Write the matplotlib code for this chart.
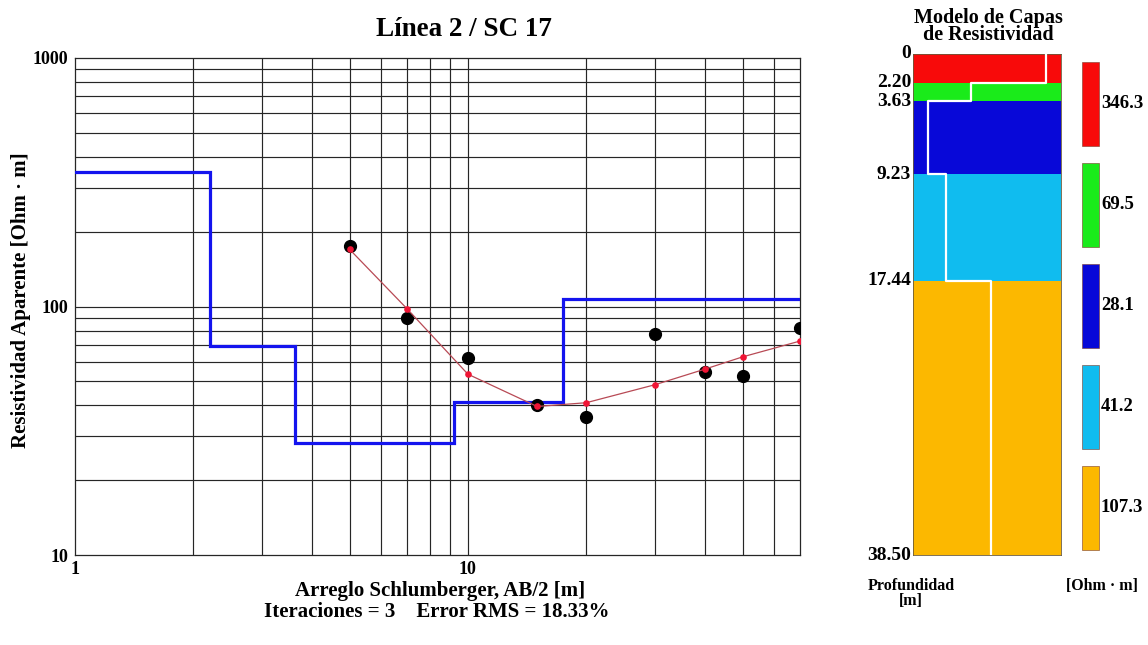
import numpy as np
import matplotlib
matplotlib.use("Agg")
import matplotlib.pyplot as plt
from matplotlib.patches import Rectangle

# Schlumberger sounding SC 17 (line 2)
ab2 = [5, 7, 10, 15, 20, 30, 40, 50, 70]
rho_obs = [175, 90.3, 62.2, 40.1, 35.9, 77.8, 54.6, 52.6, 82.2]
rho_calc = [169.7, 97.9, 53.4, 39.6, 41.0, 48.5, 55.9, 62.7, 72.6]

# Inverted layered model
layer_rho = [346.3, 69.5, 28.1, 41.2, 107.3]
layer_top = [0.0, 2.20, 3.63, 9.23, 17.44]
layer_bottom = [2.20, 3.63, 9.23, 17.44, 38.50]
depth_labels = ["0", "2.20", "3.63", "9.23", "17.44", "38.50"]
layer_colors = ["#f80a0a", "#1aeb1a", "#0808d8", "#10bcef", "#fcb800"]

title = "Línea 2 / SC 17"
xlabel = "Arreglo Schlumberger, AB/2 [m]"
stats = "Iteraciones = 3    Error RMS = 18.33%"
ylabel = "Resistividad Aparente [Ohm · m]"

SERIF = ["Liberation Serif", "DejaVu Serif"]
W, H = 1148, 645
fig = plt.figure(figsize=(W / 100, H / 100), dpi=100)
fig.patch.set_facecolor("white")


def fx(px):
    return px / W


def fy(py):
    return 1 - py / H


# ---------------- apparent resistivity curve ----------------
ax = fig.add_axes([fx(75), fy(555), fx(800) - fx(75), fy(58) - fy(555)])
ax.set_xscale("log")
ax.set_yscale("log")
ax.set_xlim(1, 70)
ax.set_ylim(10, 1000)

# full log grid
for dec in (1, 10):
    for m in range(1, 10):
        v = dec * m
        if 1 < v < 70:
            ax.axvline(v, color="#262626", lw=0.85, zorder=1)
for dec in (10, 100):
    for m in range(1, 10):
        v = dec * m
        if 10 < v <= 1000:
            ax.axhline(v, color="#262626", lw=0.85, zorder=1)

# layered model as a step curve against AB/2
step_x = [1]
step_y = [layer_rho[0]]
for i, rho in enumerate(layer_rho):
    x_end = layer_bottom[i] if i < len(layer_rho) - 1 else 70
    step_x += [x_end]
    step_y += [rho]
    if i < len(layer_rho) - 1:
        step_x += [x_end]
        step_y += [layer_rho[i + 1]]
ax.plot(step_x, step_y, color="#1414ee", lw=2.3, zorder=3, solid_joinstyle="miter")

ax.plot(ab2, rho_obs, "o", color="black", ms=8.5, zorder=4)
ax.plot(ab2, rho_calc, "-", color="#b84a55", lw=0.9, zorder=5)
ax.plot(ab2, rho_calc, "o", color="#f01535", ms=4.8, mec="none", zorder=6)

ax.set_xticks([1, 10])
ax.set_xticklabels(["1", "10"])
ax.set_yticks([10, 100, 1000])
ax.set_yticklabels(["10", "100", "1000"])
ax.xaxis.set_minor_locator(matplotlib.ticker.NullLocator())
ax.yaxis.set_minor_locator(matplotlib.ticker.NullLocator())
ax.tick_params(axis="x", length=0, pad=4)
ax.tick_params(axis="y", length=0, pad=5)
for lab in ax.get_xticklabels() + ax.get_yticklabels():
    lab.set_fontfamily(SERIF)
    lab.set_fontweight("bold")
    lab.set_fontsize(13)
for sp in ax.spines.values():
    sp.set_color("#262626")
    sp.set_linewidth(0.9)

fig.text(fx(464), fy(36), title, ha="center", va="baseline",
         fontsize=19.5, fontweight="bold", family=SERIF)
fig.text(fx(440), fy(596), xlabel, ha="center", va="baseline",
         fontsize=15, fontweight="bold", family=SERIF)
fig.text(fx(437), fy(617), stats, ha="center", va="baseline",
         fontsize=15, fontweight="bold", family=SERIF)
fig.text(fx(21), fy(300), ylabel, ha="center", va="center", rotation=90,
         fontsize=15, fontweight="bold", family=SERIF)

# ---------------- layer column ----------------
col = fig.add_axes([fx(913), fy(555), fx(1061) - fx(913), fy(54) - fy(555)])
col.set_xscale("log")
col.set_xlim(20.4, 473)
col.set_ylim(layer_bottom[-1], 0)
for i, c in enumerate(layer_colors):
    col.axhspan(layer_top[i], layer_bottom[i], color=c, lw=0, zorder=1)

# resistivity profile drawn inside the column
px, py = [], []
for i, rho in enumerate(layer_rho):
    px += [rho, rho]
    py += [layer_top[i], layer_bottom[i]]
col.plot(px, py, color="white", lw=1.6, zorder=3)
col.set_xticks([])
col.set_yticks([])
col.minorticks_off()
for sp in col.spines.values():
    sp.set_color("#6a5a3a")
    sp.set_linewidth(0.6)

depth_vals = layer_top + [layer_bottom[-1]]
for d, lab in zip(depth_vals, depth_labels):
    yy = 54 + (555 - 54) * d / layer_bottom[-1]
    fig.text(fx(911), fy(yy), lab, ha="right", va="center",
             fontsize=14, fontweight="bold", family=SERIF)

fig.text(fx(988), fy(27), "Modelo de Capas\nde Resistividad", ha="center",
         va="center", multialignment="center", linespacing=0.8,
         fontsize=14.5, fontweight="bold", family=SERIF)
fig.text(fx(911), fy(590), "Profundidad", ha="center", va="baseline",
         fontsize=11.5, fontweight="bold", family=SERIF)
fig.text(fx(911), fy(605), "[m]", ha="center", va="baseline",
         fontsize=11.5, fontweight="bold", family=SERIF)
fig.text(fx(1102), fy(590), "[Ohm · m]", ha="center", va="baseline",
         fontsize=11.5, fontweight="bold", family=SERIF)

# ---------------- colour key ----------------
key_top, key_pitch, key_h = 61.5, 101, 84
for i, (c, rho) in enumerate(zip(layer_colors, layer_rho)):
    y0 = key_top + i * key_pitch
    fig.patches.append(Rectangle((fx(1082), fy(y0 + key_h)), fx(17), key_h / H,
                                 transform=fig.transFigure, facecolor=c,
                                 edgecolor="#7a3a2a", lw=0.4))
    fig.text(fx(1101), fy(y0 + key_h / 2), f"{rho:.1f}", ha="left", va="center",
             fontsize=13.5, fontweight="bold", family=SERIF)

fig.savefig("out.png", dpi=100, facecolor="white")
